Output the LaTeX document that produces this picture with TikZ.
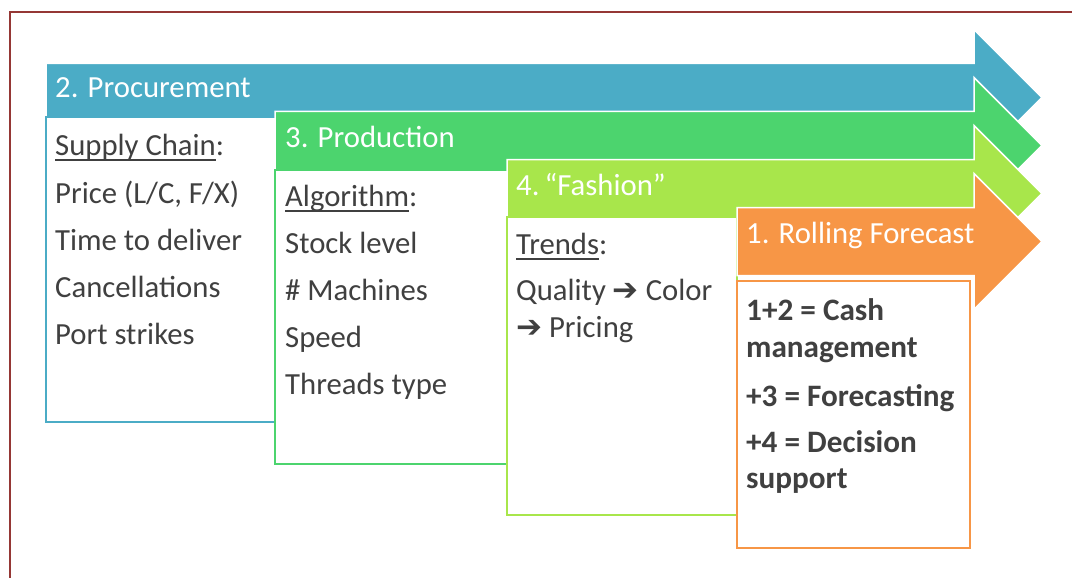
\documentclass[tikz,border=0pt]{standalone}
\usepackage{fontspec}
\setmainfont{Carlito}
\newfontfamily\symfont{DejaVu Sans}
\definecolor{cblue}{HTML}{4BACC6}
\definecolor{cgreen}{HTML}{4CD46E}
\definecolor{clgreen}{HTML}{A8E64B}
\definecolor{corange}{HTML}{F79646}
\definecolor{cframe}{HTML}{953735}
\definecolor{txtgray}{HTML}{404040}
\newcommand\myul[1]{\setbox0=\hbox{#1}\rlap{\rule[-5.5pt]{\wd0}{1.8pt}}\box0}
\newcommand\rarr{{\symfont\bfseries\fontsize{31}{36}\selectfont ➔}}
\begin{document}
\begin{tikzpicture}[x=1pt,y=-1pt,
  txt/.style={anchor=base west, inner sep=0pt, text=txtgray, font=\fontsize{30.7}{36}\selectfont},
  hdr/.style={anchor=base west, inner sep=0pt, text=white, font=\fontsize{30.7}{36}\selectfont},
  bld/.style={anchor=base west, inner sep=0pt, text=txtgray, font=\fontsize{31.2}{36}\selectfont\bfseries},
  arrowshape/.style={draw=white, line width=1.5pt, line join=miter},
  bodybox/.style={fill=white, line width=2.5pt},
  framestyle/.style={draw=cframe, line width=2.6pt}]
\useasboundingbox (0,0) rectangle (1072,578);
\fill[white] (0,0) rectangle (1072,578);
\draw[framestyle] (1090,12) -- (10,12) -- (10,600);

% 2. Procurement
\filldraw[fill=cblue, arrowshape] (46,63.5) -- (974,63.5) -- (974,29.5) -- (1042,97.5) -- (974,165.5) -- (974,131.5) -- (46,131.5) -- cycle;
\draw[bodybox, draw=cblue] (46,117) rectangle (278,422);
\node[hdr] (h2) at (55,98) {2. Procurement};
\node[txt] (sc) at (55,155) {\myul{Supply Chain}:};
\node[txt] (pr) at (55,203) {Price (L/C, F/X)};
\node[txt] (td) at (55,250) {Time to deliver};
\node[txt] (ca) at (55,297) {Cancellations};
\node[txt] (ps) at (55,344) {Port strikes};

% 3. Production
\filldraw[fill=cgreen, arrowshape] (275,111.5) -- (974,111.5) -- (974,77.5) -- (1042,145.5) -- (974,213.5) -- (974,179.5) -- (275,179.5) -- cycle;
\draw[bodybox, draw=cgreen] (275,170) rectangle (509,464);
\node[hdr] (h3) at (285,147) {3. Production};
\node[txt] (al) at (285,206) {\myul{Algorithm}:};
\node[txt] (sl) at (285,253) {Stock level};
\node[txt] (mc) at (285,300) {\# Machines};
\node[txt] (sp) at (285,347) {Speed};
\node[txt] (tt) at (285,394) {Threads type};

% 4. Fashion
\filldraw[fill=clgreen, arrowshape] (507,159.5) -- (974,159.5) -- (974,125.5) -- (1042,193.5) -- (974,261.5) -- (974,227.5) -- (507,227.5) -- cycle;
\draw[bodybox, draw=clgreen] (507,217) rectangle (737,515);
\node[hdr] (h4) at (516,195) {4.\,“Fashion”};
\node[txt] (tr) at (516,254) {\myul{Trends}:};
\node[txt] (qc) at (516,300) {Quality \rarr\ Color};
\node[txt] (pc) at (516,337) {\rarr\ Pricing};

% 1. Rolling Forecast
\filldraw[fill=corange, arrowshape] (737,207.5) -- (974,207.5) -- (974,173.5) -- (1042,241.5) -- (974,309.5) -- (974,275.5) -- (737,275.5) -- cycle;
\draw[bodybox, draw=corange] (737,281) rectangle (970,548);
\node[hdr] (h1) at (746,243) {1. Rolling Forecast};
\node[bld] (o1) at (746,320) {1+2 = Cash};
\node[bld] (o2) at (746,357) {management};
\node[bld] (o3) at (746,406) {+3 = Forecasting};
\node[bld] (o4) at (746,452) {+4 = Decision};
\node[bld] (o5) at (746,488) {support};
\end{tikzpicture}
\end{document}
